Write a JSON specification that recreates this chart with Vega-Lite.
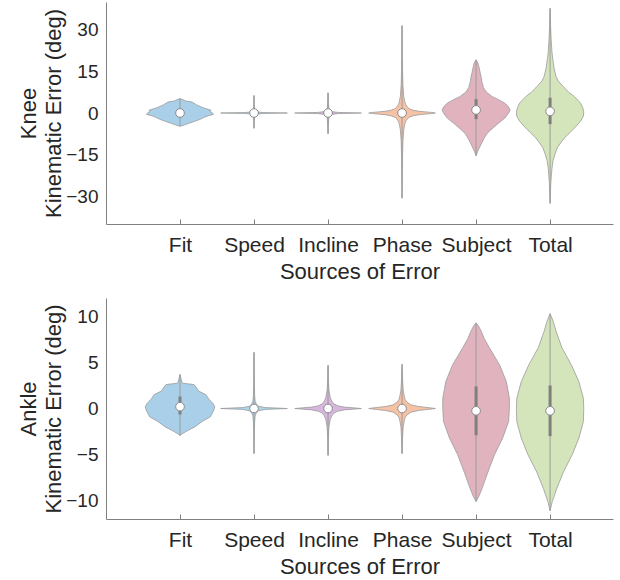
{
"$schema": "https://vega.github.io/schema/vega-lite/v6.json",
"background": "white",
"padding": {"left": 17, "top": 2, "right": 8, "bottom": 2},
"spacing": 16,
"config": {"view": {"stroke": null}, "font": "Liberation Sans",
  "axis": {"domainColor": "#808080", "tickColor": "#808080", "labelColor": "#262626", "titleColor": "#262626", "labelFontSize": 21, "titleFontSize": 22, "titleFontWeight": "normal", "grid": false, "labelFont": "Liberation Sans", "titleFont": "Liberation Sans", "titleLineHeight": 25},
  "axisY": {"labelFontSize": 19}},
"datasets": {
"kneeV": [
{"c":"Fit","v":-4.8,"lo":1,"hi":1},{"c":"Fit","v":-4.3,"lo":0.94,"hi":1.06},{"c":"Fit","v":-3.8,"lo":0.89,"hi":1.11},{"c":"Fit","v":-3.0,"lo":0.8,"hi":1.2},{"c":"Fit","v":-2.2,"lo":0.72,"hi":1.28},{"c":"Fit","v":-1.5,"lo":0.67,"hi":1.33},{"c":"Fit","v":-1.0,"lo":0.62,"hi":1.38},{"c":"Fit","v":-0.5,"lo":0.55,"hi":1.45},{"c":"Fit","v":0,"lo":0.56,"hi":1.44},{"c":"Fit","v":0.6,"lo":0.6,"hi":1.4},{"c":"Fit","v":1.0,"lo":0.58,"hi":1.42},{"c":"Fit","v":1.5,"lo":0.64,"hi":1.36},{"c":"Fit","v":2.0,"lo":0.7,"hi":1.3},{"c":"Fit","v":2.5,"lo":0.74,"hi":1.26},{"c":"Fit","v":3.0,"lo":0.78,"hi":1.22},{"c":"Fit","v":3.5,"lo":0.81,"hi":1.19},{"c":"Fit","v":4.0,"lo":0.84,"hi":1.16},{"c":"Fit","v":4.3,"lo":0.92,"hi":1.08},{"c":"Fit","v":4.8,"lo":0.96,"hi":1.04},{"c":"Fit","v":5.2,"lo":1,"hi":1},
{"c":"Speed","v":-5.5,"lo":2,"hi":2},{"c":"Speed","v":-3,"lo":1.996,"hi":2.004},{"c":"Speed","v":-1.5,"lo":1.992,"hi":2.008},{"c":"Speed","v":-0.8,"lo":1.985,"hi":2.015},{"c":"Speed","v":-0.4,"lo":1.96,"hi":2.04},{"c":"Speed","v":-0.15,"lo":1.88,"hi":2.12},{"c":"Speed","v":0,"lo":1.55,"hi":2.45},{"c":"Speed","v":0.15,"lo":1.88,"hi":2.12},{"c":"Speed","v":0.4,"lo":1.96,"hi":2.04},{"c":"Speed","v":0.8,"lo":1.985,"hi":2.015},{"c":"Speed","v":1.5,"lo":1.992,"hi":2.008},{"c":"Speed","v":3,"lo":1.996,"hi":2.004},{"c":"Speed","v":6.3,"lo":2,"hi":2},
{"c":"Incline","v":-7.5,"lo":3,"hi":3},{"c":"Incline","v":-4,"lo":2.995,"hi":3.005},{"c":"Incline","v":-2,"lo":2.99,"hi":3.01},{"c":"Incline","v":-1,"lo":2.98,"hi":3.02},{"c":"Incline","v":-0.5,"lo":2.95,"hi":3.05},{"c":"Incline","v":-0.2,"lo":2.86,"hi":3.14},{"c":"Incline","v":0,"lo":2.55,"hi":3.45},{"c":"Incline","v":0.2,"lo":2.86,"hi":3.14},{"c":"Incline","v":0.5,"lo":2.95,"hi":3.05},{"c":"Incline","v":1,"lo":2.98,"hi":3.02},{"c":"Incline","v":2,"lo":2.99,"hi":3.01},{"c":"Incline","v":4,"lo":2.995,"hi":3.005},{"c":"Incline","v":7.3,"lo":3,"hi":3},
{"c":"Phase","v":-30.7,"lo":4,"hi":4},{"c":"Phase","v":-20,"lo":3.996,"hi":4.004},{"c":"Phase","v":-15,"lo":3.993,"hi":4.007},{"c":"Phase","v":-10,"lo":3.988,"hi":4.012},{"c":"Phase","v":-6,"lo":3.977,"hi":4.023},{"c":"Phase","v":-4,"lo":3.963,"hi":4.037},{"c":"Phase","v":-3,"lo":3.95,"hi":4.05},{"c":"Phase","v":-2,"lo":3.925,"hi":4.075},{"c":"Phase","v":-1.5,"lo":3.9,"hi":4.1},{"c":"Phase","v":-1,"lo":3.85,"hi":4.15},{"c":"Phase","v":-0.6,"lo":3.77,"hi":4.23},{"c":"Phase","v":-0.4,"lo":3.68,"hi":4.32},{"c":"Phase","v":-0.2,"lo":3.6,"hi":4.4},{"c":"Phase","v":0,"lo":3.55,"hi":4.45},{"c":"Phase","v":0.2,"lo":3.6,"hi":4.4},{"c":"Phase","v":0.4,"lo":3.68,"hi":4.32},{"c":"Phase","v":0.6,"lo":3.77,"hi":4.23},{"c":"Phase","v":1,"lo":3.85,"hi":4.15},{"c":"Phase","v":1.5,"lo":3.9,"hi":4.1},{"c":"Phase","v":2,"lo":3.925,"hi":4.075},{"c":"Phase","v":3,"lo":3.95,"hi":4.05},{"c":"Phase","v":4,"lo":3.963,"hi":4.037},{"c":"Phase","v":6,"lo":3.977,"hi":4.023},{"c":"Phase","v":10,"lo":3.988,"hi":4.012},{"c":"Phase","v":15,"lo":3.993,"hi":4.007},{"c":"Phase","v":20,"lo":3.996,"hi":4.004},{"c":"Phase","v":31.5,"lo":4,"hi":4},
{"c":"Subject","v":-15.4,"lo":5,"hi":5},{"c":"Subject","v":-14,"lo":4.98,"hi":5.02},{"c":"Subject","v":-12.8,"lo":4.96,"hi":5.04},{"c":"Subject","v":-10.6,"lo":4.92,"hi":5.08},{"c":"Subject","v":-9,"lo":4.89,"hi":5.11},{"c":"Subject","v":-7.3,"lo":4.85,"hi":5.15},{"c":"Subject","v":-5.1,"lo":4.76,"hi":5.24},{"c":"Subject","v":-3.5,"lo":4.69,"hi":5.31},{"c":"Subject","v":-1.8,"lo":4.61,"hi":5.39},{"c":"Subject","v":0,"lo":4.56,"hi":5.44},{"c":"Subject","v":1.1,"lo":4.54,"hi":5.46},{"c":"Subject","v":2.5,"lo":4.57,"hi":5.43},{"c":"Subject","v":3.7,"lo":4.62,"hi":5.38},{"c":"Subject","v":5,"lo":4.71,"hi":5.29},{"c":"Subject","v":5.9,"lo":4.78,"hi":5.22},{"c":"Subject","v":7.5,"lo":4.86,"hi":5.14},{"c":"Subject","v":9.1,"lo":4.9,"hi":5.1},{"c":"Subject","v":11,"lo":4.92,"hi":5.08},{"c":"Subject","v":12.8,"lo":4.93,"hi":5.07},{"c":"Subject","v":14.5,"lo":4.945,"hi":5.055},{"c":"Subject","v":16.5,"lo":4.96,"hi":5.04},{"c":"Subject","v":18,"lo":4.975,"hi":5.025},{"c":"Subject","v":19.2,"lo":5,"hi":5},
{"c":"Total","v":-32.6,"lo":6,"hi":6},{"c":"Total","v":-25,"lo":5.99,"hi":6.01},{"c":"Total","v":-20,"lo":5.975,"hi":6.025},{"c":"Total","v":-17.2,"lo":5.96,"hi":6.04},{"c":"Total","v":-14.5,"lo":5.93,"hi":6.07},{"c":"Total","v":-12.4,"lo":5.9,"hi":6.1},{"c":"Total","v":-10.5,"lo":5.85,"hi":6.15},{"c":"Total","v":-8.8,"lo":5.8,"hi":6.2},{"c":"Total","v":-7,"lo":5.73,"hi":6.27},{"c":"Total","v":-5.1,"lo":5.66,"hi":6.34},{"c":"Total","v":-3,"lo":5.59,"hi":6.41},{"c":"Total","v":-1.2,"lo":5.55,"hi":6.45},{"c":"Total","v":0.4,"lo":5.545,"hi":6.455},{"c":"Total","v":2,"lo":5.56,"hi":6.44},{"c":"Total","v":3.6,"lo":5.59,"hi":6.41},{"c":"Total","v":5.9,"lo":5.67,"hi":6.33},{"c":"Total","v":7.5,"lo":5.75,"hi":6.25},{"c":"Total","v":9.5,"lo":5.82,"hi":6.18},{"c":"Total","v":11.5,"lo":5.89,"hi":6.11},{"c":"Total","v":13.2,"lo":5.92,"hi":6.08},{"c":"Total","v":16,"lo":5.945,"hi":6.055},{"c":"Total","v":18.7,"lo":5.96,"hi":6.04},{"c":"Total","v":22,"lo":5.975,"hi":6.025},{"c":"Total","v":27,"lo":5.987,"hi":6.013},{"c":"Total","v":32,"lo":5.994,"hi":6.006},{"c":"Total","v":37.7,"lo":6,"hi":6}
],
"kneeS": [
{"c":"Fit","pos":1,"min":-4.7,"max":5.2,"q1":-0.6,"q3":0.6,"med":0},
{"c":"Speed","pos":2,"min":-5.5,"max":6.3,"q1":-0.1,"q3":0.1,"med":0},
{"c":"Incline","pos":3,"min":-7.5,"max":7.3,"q1":-0.1,"q3":0.1,"med":0},
{"c":"Phase","pos":4,"min":-30.7,"max":31.5,"q1":-0.3,"q3":0.3,"med":0},
{"c":"Subject","pos":5,"min":-15.4,"max":19.2,"q1":-2.2,"q3":5.0,"med":1.1},
{"c":"Total","pos":6,"min":-32.6,"max":37.7,"q1":-4.0,"q3":5.5,"med":0.6}
],
"ankleV": [
{"c":"Fit","v":-2.9,"lo":1,"hi":1},{"c":"Fit","v":-2.5,"lo":0.92,"hi":1.08},{"c":"Fit","v":-2.0,"lo":0.8,"hi":1.2},{"c":"Fit","v":-1.4,"lo":0.7,"hi":1.3},{"c":"Fit","v":-0.9,"lo":0.59,"hi":1.41},{"c":"Fit","v":-0.3,"lo":0.55,"hi":1.45},{"c":"Fit","v":0.2,"lo":0.53,"hi":1.47},{"c":"Fit","v":0.6,"lo":0.56,"hi":1.44},{"c":"Fit","v":1.0,"lo":0.61,"hi":1.39},{"c":"Fit","v":1.5,"lo":0.65,"hi":1.35},{"c":"Fit","v":1.9,"lo":0.75,"hi":1.25},{"c":"Fit","v":2.3,"lo":0.78,"hi":1.22},{"c":"Fit","v":2.6,"lo":0.81,"hi":1.19},{"c":"Fit","v":2.75,"lo":0.97,"hi":1.03},{"c":"Fit","v":3.2,"lo":0.985,"hi":1.015},{"c":"Fit","v":3.7,"lo":1,"hi":1},
{"c":"Speed","v":-4.9,"lo":2,"hi":2},{"c":"Speed","v":-3,"lo":1.996,"hi":2.004},{"c":"Speed","v":-1.5,"lo":1.992,"hi":2.008},{"c":"Speed","v":-0.8,"lo":1.985,"hi":2.015},{"c":"Speed","v":-0.5,"lo":1.97,"hi":2.03},{"c":"Speed","v":-0.25,"lo":1.94,"hi":2.06},{"c":"Speed","v":-0.1,"lo":1.85,"hi":2.15},{"c":"Speed","v":0,"lo":1.55,"hi":2.45},{"c":"Speed","v":0.1,"lo":1.85,"hi":2.15},{"c":"Speed","v":0.25,"lo":1.94,"hi":2.06},{"c":"Speed","v":0.5,"lo":1.97,"hi":2.03},{"c":"Speed","v":0.8,"lo":1.985,"hi":2.015},{"c":"Speed","v":1.5,"lo":1.992,"hi":2.008},{"c":"Speed","v":3,"lo":1.996,"hi":2.004},{"c":"Speed","v":6.1,"lo":2,"hi":2},
{"c":"Incline","v":-5.1,"lo":3,"hi":3},{"c":"Incline","v":-3,"lo":2.994,"hi":3.006},{"c":"Incline","v":-2,"lo":2.988,"hi":3.012},{"c":"Incline","v":-1.2,"lo":2.97,"hi":3.03},{"c":"Incline","v":-0.8,"lo":2.95,"hi":3.05},{"c":"Incline","v":-0.5,"lo":2.92,"hi":3.08},{"c":"Incline","v":-0.3,"lo":2.87,"hi":3.13},{"c":"Incline","v":-0.15,"lo":2.78,"hi":3.22},{"c":"Incline","v":0,"lo":2.55,"hi":3.45},{"c":"Incline","v":0.15,"lo":2.78,"hi":3.22},{"c":"Incline","v":0.3,"lo":2.87,"hi":3.13},{"c":"Incline","v":0.5,"lo":2.92,"hi":3.08},{"c":"Incline","v":0.8,"lo":2.95,"hi":3.05},{"c":"Incline","v":1.2,"lo":2.97,"hi":3.03},{"c":"Incline","v":2,"lo":2.988,"hi":3.012},{"c":"Incline","v":3,"lo":2.994,"hi":3.006},{"c":"Incline","v":4.7,"lo":3,"hi":3},
{"c":"Phase","v":-4.9,"lo":4,"hi":4},{"c":"Phase","v":-3,"lo":3.992,"hi":4.008},{"c":"Phase","v":-2,"lo":3.985,"hi":4.015},{"c":"Phase","v":-1.45,"lo":3.973,"hi":4.027},{"c":"Phase","v":-1,"lo":3.96,"hi":4.04},{"c":"Phase","v":-0.72,"lo":3.937,"hi":4.063},{"c":"Phase","v":-0.4,"lo":3.88,"hi":4.12},{"c":"Phase","v":-0.22,"lo":3.78,"hi":4.22},{"c":"Phase","v":-0.11,"lo":3.66,"hi":4.34},{"c":"Phase","v":0,"lo":3.55,"hi":4.45},{"c":"Phase","v":0.11,"lo":3.66,"hi":4.34},{"c":"Phase","v":0.22,"lo":3.78,"hi":4.22},{"c":"Phase","v":0.4,"lo":3.88,"hi":4.12},{"c":"Phase","v":0.72,"lo":3.937,"hi":4.063},{"c":"Phase","v":1,"lo":3.96,"hi":4.04},{"c":"Phase","v":1.45,"lo":3.973,"hi":4.027},{"c":"Phase","v":2,"lo":3.985,"hi":4.015},{"c":"Phase","v":3,"lo":3.992,"hi":4.008},{"c":"Phase","v":4.8,"lo":4,"hi":4},
{"c":"Subject","v":-10.1,"lo":5,"hi":5},{"c":"Subject","v":-9.5,"lo":4.96,"hi":5.04},{"c":"Subject","v":-8.7,"lo":4.92,"hi":5.08},{"c":"Subject","v":-6.9,"lo":4.84,"hi":5.16},{"c":"Subject","v":-5.0,"lo":4.75,"hi":5.25},{"c":"Subject","v":-3.2,"lo":4.64,"hi":5.36},{"c":"Subject","v":-1.4,"lo":4.56,"hi":5.44},{"c":"Subject","v":0,"lo":4.55,"hi":5.45},{"c":"Subject","v":1.1,"lo":4.55,"hi":5.45},{"c":"Subject","v":2.9,"lo":4.59,"hi":5.41},{"c":"Subject","v":4.7,"lo":4.68,"hi":5.32},{"c":"Subject","v":6.6,"lo":4.82,"hi":5.18},{"c":"Subject","v":7.6,"lo":4.89,"hi":5.11},{"c":"Subject","v":8.4,"lo":4.93,"hi":5.07},{"c":"Subject","v":9.0,"lo":4.97,"hi":5.03},{"c":"Subject","v":9.3,"lo":5,"hi":5},
{"c":"Total","v":-11.1,"lo":6,"hi":6},{"c":"Total","v":-10.1,"lo":5.97,"hi":6.03},{"c":"Total","v":-8.7,"lo":5.91,"hi":6.09},{"c":"Total","v":-6.9,"lo":5.82,"hi":6.18},{"c":"Total","v":-5.0,"lo":5.7,"hi":6.3},{"c":"Total","v":-3.2,"lo":5.61,"hi":6.39},{"c":"Total","v":-1.4,"lo":5.55,"hi":6.45},{"c":"Total","v":0,"lo":5.545,"hi":6.455},{"c":"Total","v":1.1,"lo":5.55,"hi":6.45},{"c":"Total","v":2.9,"lo":5.61,"hi":6.39},{"c":"Total","v":4.7,"lo":5.71,"hi":6.29},{"c":"Total","v":6.6,"lo":5.84,"hi":6.16},{"c":"Total","v":8.4,"lo":5.92,"hi":6.08},{"c":"Total","v":9.5,"lo":5.96,"hi":6.04},{"c":"Total","v":10.3,"lo":6,"hi":6}
],
"ankleS": [
{"c":"Fit","pos":1,"min":-3.0,"max":3.7,"q1":-0.65,"q3":1.3,"med":0.2},
{"c":"Speed","pos":2,"min":-4.9,"max":6.1,"q1":-0.05,"q3":0.05,"med":0},
{"c":"Incline","pos":3,"min":-5.1,"max":4.7,"q1":-0.1,"q3":0.1,"med":0},
{"c":"Phase","pos":4,"min":-4.9,"max":4.8,"q1":-0.1,"q3":0.1,"med":0},
{"c":"Subject","pos":5,"min":-10.1,"max":9.3,"q1":-2.9,"q3":2.4,"med":-0.25},
{"c":"Total","pos":6,"min":-11.1,"max":10.3,"q1":-3.0,"q3":2.5,"med":-0.25}
]
},
"vconcat": [
{
"width": 507, "height": 222,
"layer": [
{"data": {"name": "kneeV"}, "mark": {"type": "area", "orient": "horizontal", "stroke": "#9b9b9b", "strokeWidth": 0.8, "fillOpacity": 1},
 "encoding": {
  "y": {"field": "v", "type": "quantitative", "scale": {"domain": [-40, 40], "nice": false}, "axis": {"title": ["Knee", "Kinematic Error (deg)"], "values": [-30, -15, 0, 15, 30], "ticks": false, "labelPadding": 8, "titlePadding": 0}},
  "x": {"field": "lo", "type": "quantitative", "scale": {"domain": [0, 6.85], "nice": false, "zero": false}, "axis": {"title": "Sources of Error", "values": [1, 2, 3, 4, 5, 6], "labelExpr": "['','Fit','Speed','Incline','Phase','Subject','Total'][datum.value]", "tickSize": -5, "labelPadding": 15, "titlePadding": 6}},
  "x2": {"field": "hi"},
  "color": {"field": "c", "type": "nominal", "scale": {"domain": ["Fit", "Speed", "Incline", "Phase", "Subject", "Total"], "range": ["#a9cfe9", "#acd6ea", "#d7b7dd", "#f6c2a6", "#e1b3be", "#d4e5bb"]}, "legend": null}
 }},
{"data": {"name": "kneeS"}, "mark": {"type": "rule", "color": "#9b9b9b", "strokeWidth": 1},
 "encoding": {
  "x": {"field": "pos", "type": "quantitative", "axis": {"title": "Sources of Error", "values": [1, 2, 3, 4, 5, 6], "labelExpr": "['','Fit','Speed','Incline','Phase','Subject','Total'][datum.value]", "tickSize": -5, "labelPadding": 15, "titlePadding": 6}},
  "y": {"field": "min", "type": "quantitative", "axis": {"title": ["Knee", "Kinematic Error (deg)"], "values": [-30, -15, 0, 15, 30], "ticks": false, "labelPadding": 8, "titlePadding": 0}},
  "y2": {"field": "max"}
 }},
{"data": {"name": "kneeS"}, "mark": {"type": "rule", "color": "#7f7f7f", "strokeWidth": 3},
 "encoding": {
  "x": {"field": "pos", "type": "quantitative", "axis": {"title": "Sources of Error", "values": [1, 2, 3, 4, 5, 6], "labelExpr": "['','Fit','Speed','Incline','Phase','Subject','Total'][datum.value]", "tickSize": -5, "labelPadding": 15, "titlePadding": 6}},
  "y": {"field": "q1", "type": "quantitative", "axis": {"title": ["Knee", "Kinematic Error (deg)"], "values": [-30, -15, 0, 15, 30], "ticks": false, "labelPadding": 8, "titlePadding": 0}},
  "y2": {"field": "q3"}
 }},
{"data": {"name": "kneeS"}, "mark": {"type": "point", "shape": "circle", "filled": true, "fill": "white", "stroke": "#8a8a8a", "strokeWidth": 1, "size": 75, "opacity": 1},
 "encoding": {
  "x": {"field": "pos", "type": "quantitative", "axis": {"title": "Sources of Error", "values": [1, 2, 3, 4, 5, 6], "labelExpr": "['','Fit','Speed','Incline','Phase','Subject','Total'][datum.value]", "tickSize": -5, "labelPadding": 15, "titlePadding": 6}},
  "y": {"field": "med", "type": "quantitative", "axis": {"title": ["Knee", "Kinematic Error (deg)"], "values": [-30, -15, 0, 15, 30], "ticks": false, "labelPadding": 8, "titlePadding": 0}}
 }}
]
},
{
"width": 507, "height": 221,
"layer": [
{"data": {"name": "ankleV"}, "mark": {"type": "area", "orient": "horizontal", "stroke": "#9b9b9b", "strokeWidth": 0.8, "fillOpacity": 1},
 "encoding": {
  "y": {"field": "v", "type": "quantitative", "scale": {"domain": [-12, 12], "nice": false}, "axis": {"title": ["Ankle", "Kinematic Error (deg)"], "values": [-10, -5, 0, 5, 10], "ticks": false, "labelPadding": 8, "titlePadding": 0}},
  "x": {"field": "lo", "type": "quantitative", "scale": {"domain": [0, 6.85], "nice": false, "zero": false}, "axis": {"title": "Sources of Error", "values": [1, 2, 3, 4, 5, 6], "labelExpr": "['','Fit','Speed','Incline','Phase','Subject','Total'][datum.value]", "tickSize": -5, "labelPadding": 15, "titlePadding": 6}},
  "x2": {"field": "hi"},
  "color": {"field": "c", "type": "nominal", "scale": {"domain": ["Fit", "Speed", "Incline", "Phase", "Subject", "Total"], "range": ["#a9cfe9", "#acd6ea", "#d7b7dd", "#f6c2a6", "#e1b3be", "#d4e5bb"]}, "legend": null}
 }},
{"data": {"name": "ankleS"}, "mark": {"type": "rule", "color": "#9b9b9b", "strokeWidth": 1},
 "encoding": {
  "x": {"field": "pos", "type": "quantitative", "axis": {"title": "Sources of Error", "values": [1, 2, 3, 4, 5, 6], "labelExpr": "['','Fit','Speed','Incline','Phase','Subject','Total'][datum.value]", "tickSize": -5, "labelPadding": 15, "titlePadding": 6}},
  "y": {"field": "min", "type": "quantitative", "axis": {"title": ["Ankle", "Kinematic Error (deg)"], "values": [-10, -5, 0, 5, 10], "ticks": false, "labelPadding": 8, "titlePadding": 0}},
  "y2": {"field": "max"}
 }},
{"data": {"name": "ankleS"}, "mark": {"type": "rule", "color": "#7f7f7f", "strokeWidth": 3},
 "encoding": {
  "x": {"field": "pos", "type": "quantitative", "axis": {"title": "Sources of Error", "values": [1, 2, 3, 4, 5, 6], "labelExpr": "['','Fit','Speed','Incline','Phase','Subject','Total'][datum.value]", "tickSize": -5, "labelPadding": 15, "titlePadding": 6}},
  "y": {"field": "q1", "type": "quantitative", "axis": {"title": ["Ankle", "Kinematic Error (deg)"], "values": [-10, -5, 0, 5, 10], "ticks": false, "labelPadding": 8, "titlePadding": 0}},
  "y2": {"field": "q3"}
 }},
{"data": {"name": "ankleS"}, "mark": {"type": "point", "shape": "circle", "filled": true, "fill": "white", "stroke": "#8a8a8a", "strokeWidth": 1, "size": 75, "opacity": 1},
 "encoding": {
  "x": {"field": "pos", "type": "quantitative", "axis": {"title": "Sources of Error", "values": [1, 2, 3, 4, 5, 6], "labelExpr": "['','Fit','Speed','Incline','Phase','Subject','Total'][datum.value]", "tickSize": -5, "labelPadding": 15, "titlePadding": 6}},
  "y": {"field": "med", "type": "quantitative", "axis": {"title": ["Ankle", "Kinematic Error (deg)"], "values": [-10, -5, 0, 5, 10], "ticks": false, "labelPadding": 8, "titlePadding": 0}}
 }}
]
}
]
}
